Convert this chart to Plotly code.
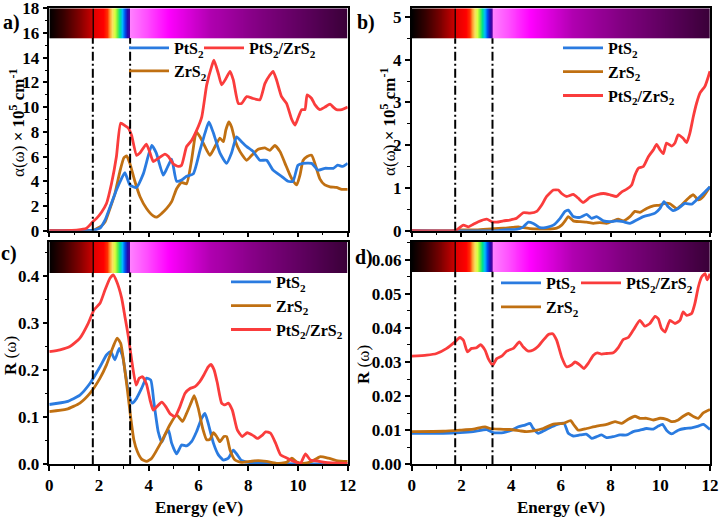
import numpy as np
import plotly.graph_objects as go

FONT = "Liberation Serif"
BLUE = "#2a7be0"
RED = "#fa3c3c"
BROWN = "#c07012"

# ---------------- data (energy eV, value) ----------------
# (a) absorption, x10^5 cm^-1
a_PtS2 = [(0, 0), (1.0, 0), (1.6, 0.02), (1.8, 0.05), (2.04, 0.2), (2.24, 0.85), (2.44, 1.9), (2.7, 3.3),
          (2.9, 4.2), (3.04, 4.7), (3.24, 3.7), (3.5, 3.5), (3.78, 4.6), (4.12, 6.9), (4.3, 6.3), (4.58, 4.5),
          (4.72, 5.0), (4.92, 5.8), (5.12, 4.0), (5.32, 4.1), (5.52, 4.4), (5.79, 4.6), (6.06, 6.5), (6.26, 7.9),
          (6.42, 8.8), (6.6, 7.9), (6.86, 6.3), (7.13, 5.45), (7.33, 6.3), (7.53, 7.6), (7.73, 7.2), (7.94, 6.8),
          (8.2, 6.4), (8.47, 5.7), (8.74, 5.7), (9.0, 4.9), (9.34, 4.4), (9.6, 4.0), (9.8, 4.0), (10.0, 5.3),
          (10.2, 5.45), (10.55, 5.45), (10.8, 4.9), (11.08, 5.05), (11.42, 5.05), (11.6, 5.3), (11.8, 5.2), (12.0, 5.45)]
a_ZrS2 = [(0, 0), (1.75, 0), (1.8, 0.05), (2.04, 0.3), (2.24, 0.7), (2.44, 1.8), (2.64, 3.0), (2.84, 4.8),
          (3.0, 5.9), (3.11, 6.05), (3.24, 5.45), (3.44, 4.0), (3.65, 2.75), (3.91, 1.8), (4.18, 1.2), (4.32, 1.1),
          (4.52, 1.4), (4.72, 1.8), (4.92, 2.35), (5.12, 3.4), (5.32, 3.9), (5.52, 3.8), (5.72, 5.7), (5.86, 7.6),
          (5.92, 8.0), (6.06, 7.6), (6.26, 6.8), (6.46, 6.1), (6.66, 6.8), (6.86, 7.5), (7.0, 7.2), (7.1, 8.15),
          (7.22, 8.8), (7.33, 8.4), (7.47, 7.3), (7.67, 6.4), (7.94, 5.7), (8.14, 6.1), (8.4, 6.6), (8.67, 6.7),
          (8.87, 6.5), (9.07, 6.9), (9.28, 6.4), (9.48, 5.45), (9.68, 4.5), (9.81, 4.0), (9.95, 3.7), (10.08, 4.5),
          (10.21, 5.7), (10.37, 6.0), (10.55, 6.1), (10.68, 5.45), (10.88, 4.2), (11.08, 3.7), (11.29, 3.55),
          (11.55, 3.5), (11.76, 3.35), (12.0, 3.35)]
a_Hetero = [(0, 0), (0.5, 0.01), (1.1, 0.05), (1.5, 0.2), (1.74, 0.7), (1.9, 1.0), (2.1, 1.5), (2.3, 2.2),
            (2.5, 3.8), (2.7, 6.0), (2.87, 8.7), (3.04, 8.5), (3.18, 8.3), (3.31, 7.7), (3.51, 6.1), (3.65, 6.3),
            (3.9, 7.0), (4.05, 6.3), (4.18, 5.6), (4.38, 5.85), (4.65, 6.2), (4.79, 6.0), (4.99, 5.4), (5.19, 5.2),
            (5.32, 5.3), (5.52, 6.8), (5.72, 7.3), (5.92, 8.1), (6.13, 9.2), (6.33, 11.8), (6.53, 13.3), (6.62, 13.8),
            (6.8, 12.7), (6.93, 11.8), (7.1, 12.3), (7.27, 12.9), (7.4, 12.2), (7.6, 10.3), (7.73, 10.3),
            (7.94, 10.85), (8.2, 10.7), (8.47, 10.6), (8.67, 11.9), (8.87, 12.6), (9.0, 12.9), (9.14, 12.2),
            (9.34, 10.85), (9.54, 10.3), (9.75, 9.0), (9.88, 8.55), (10.0, 9.1), (10.15, 9.8), (10.28, 9.8),
            (10.37, 11.0), (10.55, 10.7), (10.68, 10.2), (10.88, 9.8), (11.08, 10.0), (11.29, 10.25), (11.42, 10.0),
            (11.55, 9.8), (11.76, 9.8), (12.0, 10.0)]

# (b) absorption, x10^5 cm^-1
b_PtS2 = [(0, 0), (3.5, 0), (3.69, 0.02), (4.22, 0.03), (4.49, 0.09), (4.69, 0.2), (4.89, 0.17), (5.16, 0.07),
          (5.43, 0.08), (5.7, 0.13), (5.97, 0.29), (6.17, 0.45), (6.3, 0.48), (6.5, 0.33), (6.77, 0.31),
          (7.04, 0.38), (7.24, 0.29), (7.44, 0.33), (7.71, 0.23), (7.98, 0.21), (8.24, 0.23), (8.51, 0.21),
          (8.78, 0.17), (9.05, 0.25), (9.32, 0.33), (9.58, 0.37), (9.79, 0.41), (9.99, 0.52), (10.15, 0.68),
          (10.32, 0.56), (10.52, 0.47), (10.72, 0.52), (10.99, 0.64), (11.26, 0.62), (11.46, 0.72), (11.73, 0.87),
          (12.0, 1.03)]
b_ZrS2 = [(0, 0), (1.8, 0), (1.94, 0.02), (2.61, 0.02), (3.28, 0.05), (3.69, 0.06), (4.09, 0.08), (4.29, 0.09),
          (4.49, 0.07), (4.76, 0.05), (5.16, 0.04), (5.56, 0.04), (5.83, 0.06), (6.03, 0.13), (6.17, 0.23),
          (6.3, 0.33), (6.5, 0.23), (6.77, 0.21), (7.04, 0.2), (7.31, 0.17), (7.57, 0.19), (7.84, 0.17),
          (8.11, 0.23), (8.31, 0.27), (8.51, 0.23), (8.78, 0.33), (8.98, 0.45), (9.18, 0.43), (9.45, 0.52),
          (9.72, 0.58), (9.99, 0.6), (10.19, 0.64), (10.39, 0.63), (10.66, 0.52), (10.86, 0.6), (11.13, 0.76),
          (11.33, 0.84), (11.53, 0.72), (11.73, 0.8), (12.0, 1.03)]
b_Hetero = [(0, 0), (1.75, 0), (1.81, 0.02), (2.08, 0.13), (2.28, 0.09), (2.48, 0.15), (2.68, 0.21), (3.02, 0.27),
            (3.22, 0.21), (3.42, 0.2), (3.69, 0.23), (3.95, 0.25), (4.22, 0.29), (4.49, 0.42), (4.76, 0.41),
            (5.03, 0.45), (5.23, 0.6), (5.43, 0.8), (5.7, 0.95), (5.9, 0.95), (6.03, 0.87), (6.23, 0.8), (6.5, 0.85),
            (6.7, 0.76), (6.9, 0.66), (7.17, 0.78), (7.44, 0.84), (7.71, 0.87), (7.98, 0.84), (8.24, 0.8),
            (8.45, 0.91), (8.65, 0.97), (8.85, 1.07), (8.98, 1.3), (9.12, 1.46), (9.32, 1.5), (9.52, 1.73),
            (9.72, 1.89), (9.85, 2.02), (9.99, 1.89), (10.12, 1.8), (10.25, 2.05), (10.46, 1.98), (10.59, 2.05),
            (10.72, 2.24), (10.92, 2.16), (11.06, 2.06), (11.19, 2.28), (11.33, 2.67), (11.46, 2.98), (11.6, 3.22),
            (11.8, 3.38), (12.0, 3.73)]

# (c) reflectivity
c_PtS2 = [(0, 0.127), (0.7, 0.133), (1.23, 0.147), (1.64, 0.172), (2.04, 0.207), (2.3, 0.232), (2.47, 0.239),
          (2.64, 0.222), (2.81, 0.246), (2.95, 0.229), (3.08, 0.186), (3.22, 0.144), (3.34, 0.13), (3.51, 0.14),
          (3.71, 0.161), (3.91, 0.183), (4.08, 0.179), (4.21, 0.13), (4.38, 0.069), (4.52, 0.047), (4.65, 0.062),
          (4.79, 0.073), (4.92, 0.045), (5.12, 0.022), (5.32, 0.041), (5.52, 0.039), (5.72, 0.048), (5.92, 0.069),
          (6.13, 0.098), (6.26, 0.108), (6.39, 0.087), (6.6, 0.045), (6.8, 0.02), (7.0, 0.009), (7.2, 0.013),
          (7.4, 0.03), (7.56, 0.02), (7.73, 0.008), (8.0, 0.004), (8.74, 0.002), (10.0, 0.001), (12.0, 0.001)]
c_ZrS2 = [(0, 0.112), (0.7, 0.117), (1.23, 0.13), (1.64, 0.151), (2.04, 0.183), (2.3, 0.211), (2.57, 0.25),
          (2.73, 0.268), (2.87, 0.257), (3.0, 0.215), (3.14, 0.158), (3.27, 0.101), (3.4, 0.052), (3.54, 0.027),
          (3.71, 0.011), (3.91, 0.006), (4.12, 0.013), (4.32, 0.03), (4.58, 0.055), (4.85, 0.084), (5.12, 0.105),
          (5.36, 0.091), (5.52, 0.108), (5.72, 0.133), (5.83, 0.146), (5.99, 0.119), (6.17, 0.076), (6.33, 0.052),
          (6.46, 0.053), (6.6, 0.067), (6.73, 0.059), (6.86, 0.048), (7.02, 0.059), (7.13, 0.059), (7.27, 0.03),
          (7.47, 0.009), (7.73, 0.004), (8.07, 0.006), (8.4, 0.008), (8.74, 0.006), (9.14, 0.002), (9.54, 0.004),
          (9.75, 0.013), (9.95, 0.005), (10.21, 0.002), (10.55, 0.006), (10.88, 0.016), (11.22, 0.013),
          (11.55, 0.008), (12.0, 0.006)]
c_Hetero = [(0, 0.239), (0.43, 0.243), (0.83, 0.25), (1.23, 0.268), (1.57, 0.3), (1.8, 0.328), (2.04, 0.342),
            (2.24, 0.37), (2.44, 0.395), (2.57, 0.402), (2.71, 0.388), (2.91, 0.353), (3.04, 0.314), (3.18, 0.271),
            (3.31, 0.222), (3.49, 0.168), (3.62, 0.183), (3.75, 0.186), (3.91, 0.17), (4.05, 0.137), (4.18, 0.115),
            (4.32, 0.122), (4.52, 0.132), (4.69, 0.122), (4.85, 0.108), (5.05, 0.101), (5.25, 0.122), (5.46, 0.151),
            (5.66, 0.161), (5.86, 0.165), (6.06, 0.176), (6.22, 0.19), (6.39, 0.207), (6.5, 0.212), (6.63, 0.2),
            (6.76, 0.172), (6.93, 0.13), (7.06, 0.126), (7.2, 0.13), (7.36, 0.115), (7.56, 0.073), (7.76, 0.059),
            (7.96, 0.067), (8.17, 0.062), (8.37, 0.055), (8.57, 0.062), (8.7, 0.069), (8.9, 0.066), (9.1, 0.045),
            (9.3, 0.02), (9.57, 0.013), (9.84, 0.006), (10.1, 0.002), (10.3, 0.022), (10.5, 0.009), (10.8, 0.007),
            (11.1, 0.004), (12.0, 0.002)]

# (d) reflectivity
d_PtS2 = [(0, 0.0091), (1.27, 0.0091), (1.94, 0.0093), (2.48, 0.0096), (3.02, 0.0102), (3.28, 0.0093),
          (3.69, 0.0093), (4.02, 0.01), (4.29, 0.011), (4.56, 0.0115), (4.76, 0.012), (4.89, 0.0105),
          (5.09, 0.0091), (5.36, 0.01), (5.63, 0.011), (5.9, 0.0118), (6.13, 0.012), (6.3, 0.0091), (6.5, 0.0083),
          (6.77, 0.0086), (7.04, 0.0088), (7.24, 0.0076), (7.44, 0.0081), (7.64, 0.0086), (7.84, 0.0078),
          (8.11, 0.0081), (8.38, 0.0086), (8.65, 0.0086), (8.91, 0.0096), (9.18, 0.01), (9.45, 0.0105),
          (9.72, 0.0103), (9.92, 0.0112), (10.09, 0.0117), (10.25, 0.01), (10.46, 0.0089), (10.72, 0.01),
          (10.99, 0.0105), (11.26, 0.0107), (11.53, 0.0112), (11.73, 0.0117), (12.0, 0.0102)]
d_ZrS2 = [(0, 0.0096), (1.27, 0.0097), (1.94, 0.01), (2.48, 0.0103), (2.95, 0.011), (3.15, 0.0105),
          (3.55, 0.0103), (3.95, 0.0102), (4.36, 0.0098), (4.62, 0.0096), (4.89, 0.0098), (5.29, 0.0105),
          (5.7, 0.0118), (6.1, 0.012), (6.39, 0.0128), (6.53, 0.0115), (6.7, 0.01), (7.04, 0.0105), (7.44, 0.0112),
          (7.84, 0.0117), (8.18, 0.0125), (8.45, 0.012), (8.71, 0.0132), (8.98, 0.0141), (9.18, 0.0135),
          (9.45, 0.0135), (9.72, 0.013), (9.99, 0.0135), (10.25, 0.0132), (10.46, 0.0125), (10.72, 0.013),
          (10.92, 0.0141), (11.13, 0.0149), (11.33, 0.014), (11.53, 0.0135), (11.73, 0.0151), (12.0, 0.0161)]
d_Hetero = [(0, 0.0317), (0.6, 0.032), (1.0, 0.0325), (1.41, 0.034), (1.74, 0.0359), (1.94, 0.0372),
            (2.08, 0.0364), (2.24, 0.033), (2.41, 0.034), (2.61, 0.0342), (2.77, 0.0351), (2.95, 0.0335),
            (3.08, 0.031), (3.26, 0.0291), (3.42, 0.031), (3.62, 0.0317), (3.82, 0.0332), (4.09, 0.034),
            (4.33, 0.0359), (4.49, 0.0344), (4.69, 0.0332), (4.89, 0.0335), (5.09, 0.0346), (5.29, 0.0364),
            (5.5, 0.0381), (5.67, 0.0383), (5.83, 0.0364), (6.03, 0.0315), (6.23, 0.0286), (6.43, 0.0291),
            (6.57, 0.03), (6.77, 0.0291), (6.93, 0.0281), (7.1, 0.0296), (7.31, 0.032), (7.47, 0.0327),
            (7.64, 0.0323), (7.84, 0.0325), (8.11, 0.0327), (8.31, 0.0342), (8.51, 0.0366), (8.71, 0.0372),
            (8.91, 0.0393), (9.18, 0.0422), (9.38, 0.0405), (9.58, 0.0413), (9.79, 0.0434), (9.92, 0.0427),
            (10.05, 0.0398), (10.19, 0.0388), (10.39, 0.0422), (10.59, 0.0413), (10.79, 0.0422), (10.92, 0.0447),
            (11.06, 0.0437), (11.26, 0.0442), (11.39, 0.0471), (11.53, 0.052), (11.66, 0.0549), (11.8, 0.0559),
            (11.89, 0.0541), (12.0, 0.0559)]

series_names = {"PtS2": "<b>PtS<sub>2</sub></b>", "ZrS2": "<b>ZrS<sub>2</sub></b>",
                "Hetero": "<b>PtS<sub>2</sub>/ZrS<sub>2</sub></b>"}
series_colors = {"PtS2": BLUE, "ZrS2": BROWN, "Hetero": RED}

visible_edges = [1.75, 3.25]          # eV, dash-dot markers
x_ticks = [0, 2, 4, 6, 8, 10, 12]

# panel setup: y range, spectrum-bar bottom, major/minor tick steps
panels = {
    "a": dict(yr=[0, 18], bar=15.6, dt=2, mdt=1, fmt=None),
    "b": dict(yr=[0, 5.2], bar=4.5, dt=1, mdt=0.5, fmt=None),
    "c": dict(yr=[0, 0.472], bar=0.407, dt=0.1, mdt=0.05, fmt=".1f"),
    "d": dict(yr=[0, 0.0652], bar=0.0565, dt=0.01, mdt=0.005, fmt=".2f"),
}

W, H = 720, 520
px_x = {"a": (49.3, 347.7), "b": (411.7, 710.0), "c": (49.3, 347.7), "d": (411.7, 710.0)}
px_y = {"a": (8.3, 230.7), "b": (8.3, 230.7), "c": (242.0, 464.3), "d": (242.0, 464.3)}
axis_ids = {"a": "", "b": "2", "c": "3", "d": "4"}

# spectrum colour bar
spec_scale = [
    [0.0, "#000000"], [0.6 / 12, "#3a0000"], [1.2 / 12, "#800000"], [1.72 / 12, "#c80000"],
    [1.74 / 12, "#200000"], [1.79 / 12, "#200000"], [1.81 / 12, "#e00000"], [2.2 / 12, "#ff0000"],
    [2.35 / 12, "#ff3000"], [2.45 / 12, "#ff9a30"], [2.55 / 12, "#f8e060"], [2.65 / 12, "#d8ff40"],
    [2.75 / 12, "#70f040"], [2.85 / 12, "#00e090"], [2.95 / 12, "#00b8ff"], [3.05 / 12, "#0050f0"],
    [3.15 / 12, "#2010b0"], [3.24 / 12, "#5000a0"], [3.27 / 12, "#ff80ff"], [3.9 / 12, "#ff50ff"],
    [4.8 / 12, "#ff00ff"], [6.5 / 12, "#b000b0"], [8.5 / 12, "#800080"], [10.5 / 12, "#580058"],
    [1.0, "#3a0038"],
]
bar_edges = np.linspace(0, 12, 601)
bar_mid = (bar_edges[:-1] + bar_edges[1:]) / 2

fig = go.Figure()

# one legend per entry so each sample sits where the reference puts it
legend_map = {
    "a": {"PtS2": "legend", "Hetero": "legend2", "ZrS2": "legend3"},
    "b": {"PtS2": "legend4", "ZrS2": "legend4", "Hetero": "legend4"},
    "c": {"PtS2": "legend5", "ZrS2": "legend5", "Hetero": "legend5"},
    "d": {"PtS2": "legend6", "Hetero": "legend7", "ZrS2": "legend8"},
}
order = {"a": ["PtS2", "Hetero", "ZrS2"], "b": ["PtS2", "ZrS2", "Hetero"],
         "c": ["PtS2", "ZrS2", "Hetero"], "d": ["PtS2", "Hetero", "ZrS2"]}
data = {
    "a": {"PtS2": a_PtS2, "ZrS2": a_ZrS2, "Hetero": a_Hetero},
    "b": {"PtS2": b_PtS2, "ZrS2": b_ZrS2, "Hetero": b_Hetero},
    "c": {"PtS2": c_PtS2, "ZrS2": c_ZrS2, "Hetero": c_Hetero},
    "d": {"PtS2": d_PtS2, "ZrS2": d_ZrS2, "Hetero": d_Hetero},
}

for p, cfg in panels.items():
    ax = axis_ids[p]
    xa, ya = "x" + ax, "y" + ax
    fig.add_trace(go.Heatmap(x=bar_edges, y=[cfg["bar"], cfg["yr"][1]], z=[bar_mid], zmin=0, zmax=12,
                             colorscale=spec_scale, showscale=False, hoverinfo="skip",
                             xaxis=xa, yaxis=ya, showlegend=False))
    for key in ["ZrS2", "PtS2", "Hetero"] if p in ("a", "b") else ["PtS2", "ZrS2", "Hetero"]:
        pts = data[p][key]
        fig.add_trace(go.Scatter(x=[q[0] for q in pts], y=[q[1] for q in pts], mode="lines",
                                 line=dict(color=series_colors[key], width=2.8, shape="spline", smoothing=0.5),
                                 name=series_names[key], legend=legend_map[p][key], showlegend=True,
                                 legendrank=order[p].index(key) + 1,
                                 xaxis=xa, yaxis=ya, hoverinfo="skip"))
    for e in visible_edges:
        fig.add_shape(type="line", x0=e, x1=e, y0=0, y1=cfg["bar"], xref=xa, yref=ya,
                      line=dict(color="black", width=2, dash="9px,3px,2px,3px"), layer="above")

    x0, x1 = px_x[p]
    y0, y1 = px_y[p]
    common = dict(showline=True, mirror=True, linecolor="black", linewidth=1.5, showgrid=False,
                  zeroline=False, ticks="outside", ticklen=5, tickwidth=1.5, tickcolor="black",
                  automargin=False, ticklabeloverflow="allow",
                  tickfont=dict(family=FONT, size=17, color="black", weight="bold"))
    fig.update_layout(**{
        "xaxis" + ax: dict(domain=[x0 / W, x1 / W], range=[0, 12], tickmode="array", tickvals=x_ticks,
                           showticklabels=p in ("c", "d"), anchor=ya,
                           minor=dict(dtick=1, ticks="outside", ticklen=3, tickcolor="black", tickwidth=1.2),
                           **common),
        "yaxis" + ax: dict(domain=[1 - y1 / H, 1 - y0 / H], range=cfg["yr"], dtick=cfg["dt"], tick0=0,
                           tickformat=cfg["fmt"], anchor=xa,
                           minor=dict(dtick=cfg["mdt"], ticks="outside", ticklen=3, tickcolor="black",
                                      tickwidth=1.2),
                           **common),
    })

leg_common = dict(bgcolor="rgba(0,0,0,0)", font=dict(family=FONT, size=16, color="black"),
                  itemwidth=40, xanchor="left", yanchor="top", tracegroupgap=0)
fig.update_layout(
    showlegend=True,
    legend=dict(x=124 / W, y=1 - 31 / H, orientation="h", **leg_common),
    legend2=dict(x=199 / W, y=1 - 31 / H, orientation="h", **leg_common),
    legend3=dict(x=124 / W, y=1 - 54 / H, orientation="h", **leg_common),
    legend4=dict(x=558 / W, y=1 - 31 / H, orientation="v", **leg_common),
    legend5=dict(x=226 / W, y=1 - 265 / H, orientation="v", **leg_common),
    legend6=dict(x=496 / W, y=1 - 266 / H, orientation="h", **leg_common),
    legend7=dict(x=576 / W, y=1 - 266 / H, orientation="h", **leg_common),
    legend8=dict(x=496 / W, y=1 - 290 / H, orientation="h", **leg_common),
)

# axis titles and panel labels
ann = []
ytitle_abs = "α(ω) <b>× 10<sup>5</sup> cm<sup>-1</sup></b>"
ytitle_r = "<b>R</b> (ω)"
for xpx, ypx, txt in [(17, 123, ytitle_abs), (388, 122, ytitle_abs), (10, 356, ytitle_r), (363, 365, ytitle_r)]:
    ann.append(dict(x=xpx / W, y=1 - ypx / H, xref="paper", yref="paper", text=txt, textangle=-90,
                    showarrow=False, xanchor="center", yanchor="middle",
                    font=dict(family=FONT, size=17, color="black")))
for xpx, txt in [(198.5, "Energy (eV)"), (561, "Energy (eV)")]:
    ann.append(dict(x=xpx / W, y=1 - 507 / H, xref="paper", yref="paper", text="<b>" + txt + "</b>",
                    showarrow=False, xanchor="center", yanchor="middle",
                    font=dict(family=FONT, size=17, color="black")))
for xpx, ypx, txt in [(11, 23, "a)"), (366, 23, "b)"), (9, 253, "c)"), (364, 257, "d)")]:
    ann.append(dict(x=xpx / W, y=1 - ypx / H, xref="paper", yref="paper", text="<b>" + txt + "</b>",
                    showarrow=False, xanchor="center", yanchor="middle",
                    font=dict(family=FONT, size=20, color="black")))

fig.update_layout(width=W, height=H, margin=dict(l=0, r=0, t=0, b=0, autoexpand=False),
                  paper_bgcolor="white", plot_bgcolor="white", annotations=ann,
                  font=dict(family=FONT, color="black"))

# remove the default 8px page margin so the 720x520 figure fills the window exactly
fig.write_html("out.html", config={"displayModeBar": False},
               post_script="document.body.style.margin='0';document.body.style.overflow='hidden';")
